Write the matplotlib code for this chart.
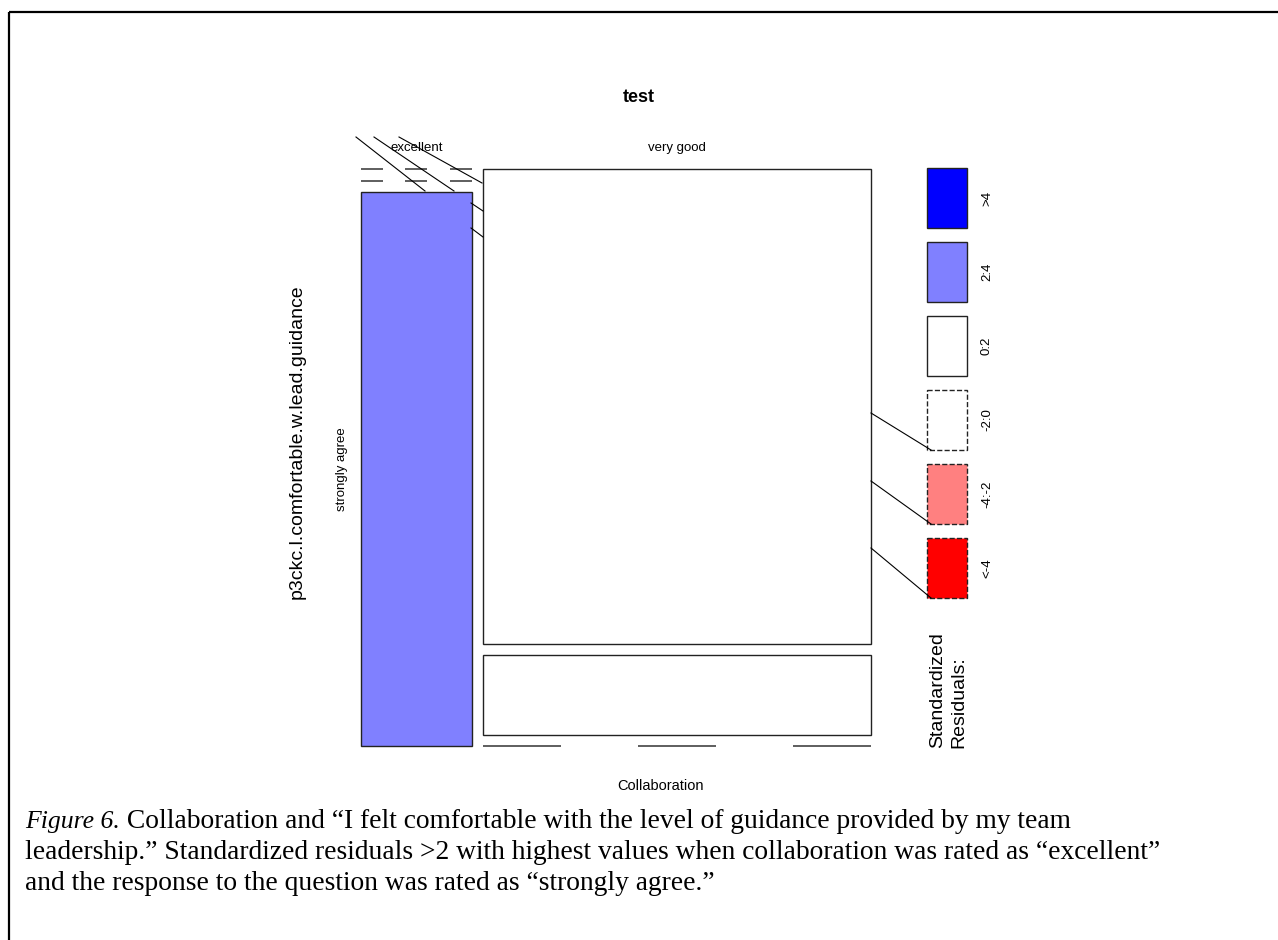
import numpy as np
import matplotlib
matplotlib.use("Agg")
import matplotlib.pyplot as plt
from matplotlib.patches import Rectangle

# ---------------- data ----------------
title = "test"
x_var = "Collaboration"
y_var = "p3ckc.l.comfortable.w.lead.guidance"
collab_levels = ["excellent", "very good"]
resp_levels = ["agree", "neutral", "strongly agree"]
resp_shown = ["", "", "strongly agree"]
# rows = response level, columns = collaboration level
counts = np.array([[0, 6],
                   [0, 1],
                   [2, 0]], dtype=float)
legend_labels = [">4", "2:4", "0:2", "-2:0", "-4:-2", "<-4"]
legend_colors = ["#0000FF", "#8080FF", "#FFFFFF", "#FFFFFF", "#FF8080", "#FF0000"]
legend_dashed = [False, False, False, True, True, True]
legend_lower = [4, 2, 0, -2, -4, -np.inf]
caption_italic = "Figure 6."
caption_lines = [
    " Collaboration and \u201cI felt comfortable with the level of guidance provided by my team",
    "leadership.\u201d Standardized residuals >2 with highest values when collaboration was rated as \u201cexcellent\u201d",
    "and the response to the question was rated as \u201cstrongly agree.\u201d",
]

# ---------------- figure ----------------
fig = plt.figure(figsize=(12.78, 9.40), dpi=100)
ax = fig.add_axes([0, 0, 1, 1])
ax.set_xlim(0, 1278)
ax.set_ylim(940, 0)
ax.axis("off")
SANS = "Liberation Sans"
SERIF = "Liberation Serif"

# page border
ax.plot([9, 1278], [12, 12], color="black", lw=1.6, solid_capstyle="butt")
ax.plot([9, 9], [12, 940], color="black", lw=1.6, solid_capstyle="butt")

# residuals
n = counts.sum()
rs = counts.sum(axis=1)
cs = counts.sum(axis=0)
expected = np.outer(rs, cs) / n
resid = (counts - expected) / np.sqrt(expected)

def shade_index(r):
    for k, lo in enumerate(legend_lower):
        if r > lo:
            return k
    return len(legend_lower) - 1

# mosaic layout
x0, x1, y0, y1, gap = 361, 871, 169, 746, 11.5
nrow, ncol = counts.shape
W = (x1 - x0) - gap * (ncol - 1)
H = (y1 - y0) - gap * (nrow - 1)
xc = x0
for j in range(ncol):
    w = cs[j] / n * W
    yc = y0
    for i in range(nrow):
        h = counts[i, j] / cs[j] * H
        if counts[i, j] == 0:
            for s in range(3):
                xs = xc + 2 * s * w / 5
                ax.plot([xs, xs + w / 5], [yc, yc], color="#333333", lw=1.1,
                        solid_capstyle="butt")
        else:
            k = shade_index(resid[i, j])
            ax.add_patch(Rectangle((xc, yc), w, h, facecolor=legend_colors[k],
                                   edgecolor="#222222", lw=1.0,
                                   linestyle="--" if legend_dashed[k] else "-"))
            if j == 0 and resp_shown[i]:
                ax.text(342, yc + h / 2, resp_shown[i], rotation=90, ha="center",
                        va="center", fontsize=9.5, family=SANS)
        yc += h + gap
    ax.text(xc + w / 2, 148, collab_levels[j], ha="center", va="center",
            fontsize=9.5, family=SANS)
    xc += w + gap

# vcd artefact lines near the top-left
for (a, b, c, d) in [(356, 137, 425, 191), (374, 137, 454, 191), (399, 137, 482, 183),
                     (471, 203, 483, 211), (471, 228, 483, 237)]:
    ax.plot([a, c], [b, d], color="black", lw=0.8)

# titles and variable names
ax.text(639, 97, title, ha="center", va="center", fontsize=13, fontweight="bold", family=SANS)
ax.text(660, 786, x_var, ha="center", va="center", fontsize=10.5, family=SANS)
ax.text(297, 442, y_var, ha="center", va="center", rotation=90, fontsize=14, family=SANS)

# legend
lx, lw_, lh, ly0, lstep = 927, 40, 60, 168, 74
for k, lab in enumerate(legend_labels):
    yb = ly0 + k * lstep
    ax.add_patch(Rectangle((lx, yb), lw_, lh, facecolor=legend_colors[k],
                           edgecolor="#222222", lw=1.0,
                           linestyle="--" if legend_dashed[k] else "-"))
    ax.text(987, yb + lh / 2, lab, rotation=90, ha="center", va="center",
            fontsize=9.5, family=SANS)
for k, ys in zip([3, 4, 5], [413, 481, 548]):
    ax.plot([871, lx + 4], [ys, ly0 + k * lstep + lh], color="black", lw=0.8)
ax.text(948, 748, "Standardized\nResiduals:", rotation=90, ha="center", va="bottom",
        multialignment="left", fontsize=14, family=SANS, linespacing=1.35)

# caption
fig.canvas.draw()
r = fig.canvas.get_renderer()
t = ax.text(25, 828, caption_italic, fontsize=18.5, family=SERIF, style="italic",
            va="baseline")
wpx = t.get_window_extent(r).width
ax.text(25 + wpx, 828, caption_lines[0], fontsize=19.8, family=SERIF, va="baseline")
ax.text(25, 859, caption_lines[1], fontsize=19.8, family=SERIF, va="baseline")
ax.text(25, 890, caption_lines[2], fontsize=19.8, family=SERIF, va="baseline")

fig.savefig("out.png", dpi=100)
